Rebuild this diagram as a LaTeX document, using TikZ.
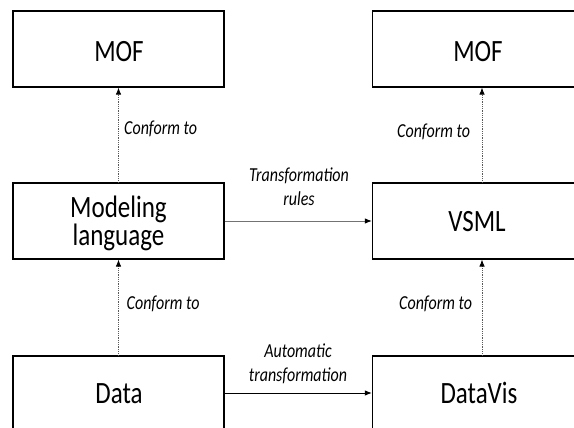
\documentclass[tikz,border=0pt]{standalone}
\usepackage{graphicx}
\usepackage{fontspec}
\setmainfont{Carlito}
\usetikzlibrary{arrows.meta}
\newcommand\vs[1]{\scalebox{1}[1.24]{#1}}
\begin{document}
\begin{tikzpicture}[x=1pt,y=-1pt,
  box/.style={draw=black, line width=1.2pt, minimum width=211pt, minimum height=76pt, inner sep=0pt, fill=white},
  big/.style={font=\fontsize{25}{30}\selectfont, inner sep=0pt, anchor=base},
  lab/.style={font=\fontsize{16}{19}\selectfont\itshape, inner sep=0pt, anchor=base, text=black},
  conf/.style={draw=black!65, line width=0.8pt, densely dotted, -{Latex[length=7pt,width=5.5pt,black]}},
  trans/.style={line width=1pt, -{Latex[length=7pt,width=5.5pt,black]}}]
\useasboundingbox (0,0) rectangle (574,428);
\clip (0,0) rectangle (574,428);
% boxes
\node[box] (mofL) at (118.5,49) {};
\node[box] (mofR) at (478,49) {};
\node[box] (ml) at (118.5,221) {};
\node[box] (vsml) at (478,221) {};
\node[box] (data) at (118.5,394) {};
\node[box] (datavis) at (478,394) {};
% box texts
\node[big] (tmofL) at (119,61.5) {\vs{MOF}};
\node[big] (tmofR) at (478,61.5) {\vs{MOF}};
\node[big] (tml1) at (118.5,217) {\vs{Modeling}};
\node[big] (tml2) at (118.5,245) {\vs{language}};
\node[big] (tvsml) at (477,232) {\vs{VSML}};
\node[big] (tdata) at (119,403) {\vs{Data}};
\node[big] (tdatavis) at (479,403.5) {\vs{DataVis}};
% connectors
\draw[conf] (ml.north) -- (mofL.south);
\draw[conf] (data.north) -- (ml.south);
\draw[conf] ([xshift=4pt]vsml.north) -- ([xshift=4pt]mofR.south);
\draw[conf] ([xshift=4pt]datavis.north) -- ([xshift=4pt]vsml.south);
\draw[trans, draw=black!55] (ml.east) -- (vsml.west);
\draw[trans] ([yshift=1pt]data.east) -- ([yshift=1pt]datavis.west);
% labels
\node[lab, anchor=base west] (c1) at (124,135) {\vs{Conform to}};
\node[lab, anchor=base west] (c2) at (397,138) {\vs{Conform to}};
\node[lab, anchor=base west] (c3) at (126.5,309) {\vs{Conform to}};
\node[lab, anchor=base west] (c4) at (399,309) {\vs{Conform to}};
\node[lab] (t1) at (299,181.7) {\vs{Transformation}};
\node[lab] (t2) at (299,205) {\vs{rules}};
\node[lab] (a1) at (298,357.3) {\vs{Automatic}};
\node[lab] (a2) at (298,381.7) {\vs{transformation}};
\end{tikzpicture}
\end{document}
